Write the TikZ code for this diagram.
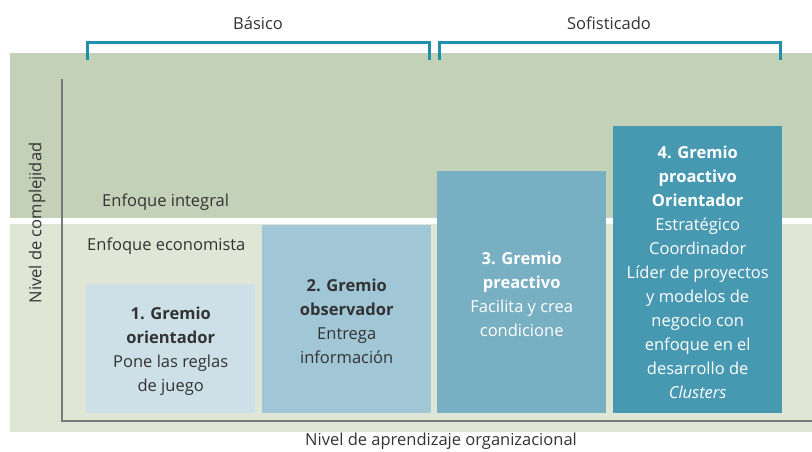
\documentclass[tikz,border=0pt]{standalone}
\usepackage{fontspec}
\setmainfont{Open Sans}
\begin{document}
\begin{tikzpicture}[x=1pt,y=-1pt,
  box/.style={draw=none, anchor=north west, inner sep=0pt},
  btext/.style={align=center, inner sep=0pt, yshift=-2.5pt, font=\fontsize{16.5}{24}\selectfont},
  dark/.style={text=txt},
  light/.style={text=white},
  bracket/.style={draw=brk, line width=3pt},
  axis/.style={draw=axc, line width=1.2pt},
  lbl/.style={font=\fontsize{16.5}{20}\selectfont, text=txt, inner sep=0pt}
]
\definecolor{bandtop}{RGB}{196,209,185}
\definecolor{bandbot}{RGB}{223,230,214}
\definecolor{c1}{RGB}{205,224,232}
\definecolor{c2}{RGB}{161,198,214}
\definecolor{c3}{RGB}{120,175,195}
\definecolor{c4}{RGB}{71,153,178}
\definecolor{brk}{RGB}{30,144,168}
\definecolor{txt}{RGB}{51,51,51}
\definecolor{axc}{RGB}{120,120,120}
\useasboundingbox (0,0) rectangle (812,452);
% bands
\fill[bandtop] (10,53) rectangle (812,218);
\fill[bandbot] (10,224) rectangle (812,432);
% brackets
\draw[bracket] (87,60) -- (87,43) -- (429,43) -- (429,60);
\draw[bracket] (439,60) -- (439,43) -- (780,43) -- (780,60);
\node[lbl] (basico) at (258,23) {Básico};
\node[lbl] (sofis) at (609,23) {Sofisticado};
% axes
\coordinate (ytop) at (62,79);
\coordinate (orig) at (62,421);
\coordinate (xend) at (812,421);
\draw[axis] (ytop) -- (orig) -- (xend);
\node[lbl, rotate=90] (ylab) at (37,223) {Nivel de complejidad};
\node[lbl] (xlab) at (441,441) {Nivel de aprendizaje organizacional};
\node[lbl, anchor=west] (integral) at (102,202) {Enfoque integral};
\node[lbl, anchor=west] (econ) at (87,246) {Enfoque economista};
% boxes
\node[box, fill=c1, minimum width=169pt, minimum height=129pt] (b1) at (86,284) {};
\node[box, fill=c2, minimum width=169pt, minimum height=188pt] (b2) at (262,225) {};
\node[box, fill=c3, minimum width=169pt, minimum height=242pt] (b3) at (437,171) {};
\node[box, fill=c4, minimum width=169pt, minimum height=287pt] (b4) at (613,126) {};
\node[btext, dark] (t1) at (b1.center)
  {\textbf{1. Gremio}\\\textbf{orientador}\\Pone las reglas\\de juego};
\node[btext, dark] (t2) at (b2.center)
  {\textbf{2. Gremio}\\\textbf{observador}\\Entrega\\información};
\node[btext, light] (t3) at (b3.center)
  {\textbf{3. Gremio}\\\textbf{preactivo}\\Facilita y crea\\condicione};
\node[btext, light] (t4) at (b4.center)
  {\textbf{4. Gremio}\\\textbf{proactivo}\\\textbf{Orientador}\\Estratégico\\Coordinador\\Líder de proyectos\\y modelos de\\negocio con\\enfoque en el\\desarrollo de\\\textit{Clusters}};
\end{tikzpicture}
\end{document}
